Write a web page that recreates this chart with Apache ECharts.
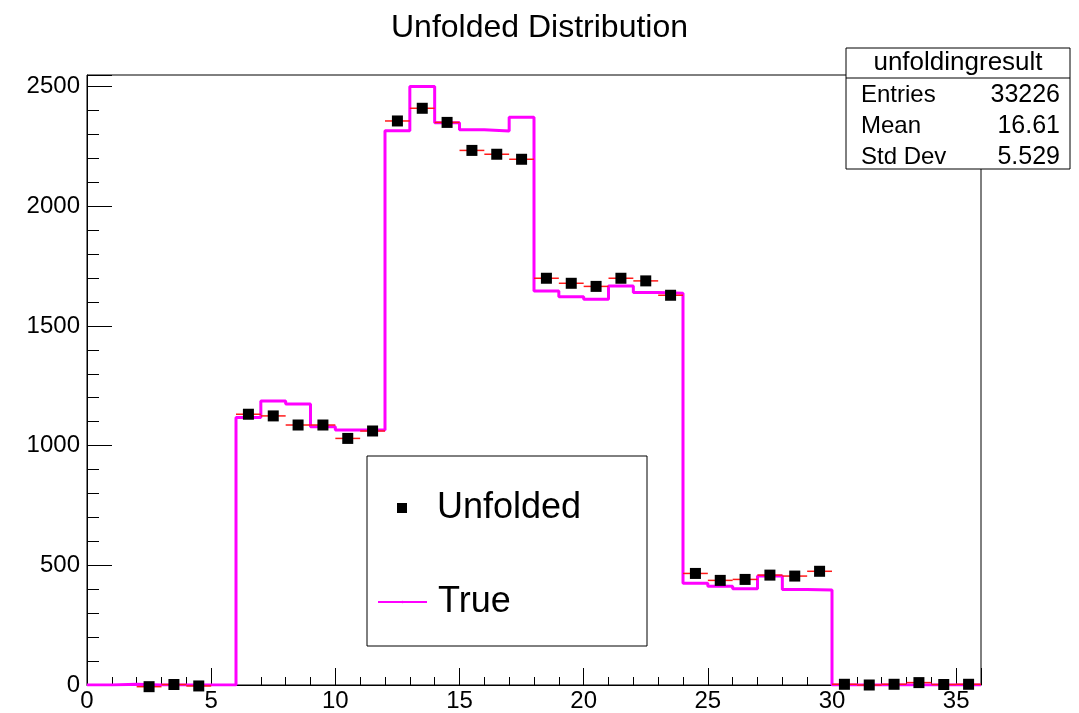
<!DOCTYPE html>
<html>
<head>
<meta charset="utf-8">
<script src="https://cdn.jsdelivr.net/npm/echarts@6/dist/echarts.min.js"></script>
<style>
  html, body { margin: 0; padding: 0; background: #fff; }
  #main { width: 1079px; height: 713px; }
</style>
</head>
<body>
<div id="main"></div>
<script>
var myChart = echarts.init(document.getElementById('main'));

// bin edges of the histogram (width 1)
var binEdges = [0, 1, 2, 3, 4, 5, 6, 7, 8, 9, 10, 11, 12, 13, 14, 15, 16, 17, 18,
    19, 20, 21, 22, 23, 24, 25, 26, 27, 28, 29, 30, 31, 32, 33, 34, 35, 36];

// "True" histogram, one value per bin
var trueCounts = [0, 3, 0, 0, 0, 0,
    1117, 1186, 1174, 1079, 1065, 1065,
    2315, 2500, 2349, 2319, 2314, 2371,
    1646, 1622, 1611, 1667, 1639, 1636,
    425, 413, 402, 455, 399, 397,
    0, 0, 0, 0, 0, 0];

// "Unfolded" points (bin centres)
var unfoldedX = [2.5, 3.5, 4.5,
    6.5, 7.5, 8.5, 9.5, 10.5, 11.5,
    12.5, 13.5, 14.5, 15.5, 16.5, 17.5,
    18.5, 19.5, 20.5, 21.5, 22.5, 23.5,
    24.5, 25.5, 26.5, 27.5, 28.5, 29.5,
    30.5, 31.5, 32.5, 33.5, 34.5, 35.5];
var unfoldedY = [-7, 2, -4,
    1131, 1124, 1086, 1086, 1030, 1061,
    2356, 2409, 2350, 2233, 2217, 2196,
    1699, 1678, 1665, 1699, 1688, 1628,
    466, 437, 441, 459, 455, 475,
    3, 0, 3, 10, 2, 3];
var halfWidth = 0.5;

var xTicks = [0, 5, 10, 15, 20, 25, 30, 35];
var yTicks = [0, 500, 1000, 1500, 2000, 2500];

var statsName = 'unfoldingresult';
var statsRows = [['Entries', '33226'], ['Mean', '16.61'], ['Std Dev', '5.529']];

var font = '"Liberation Sans", Arial, Helvetica, sans-serif';

// step line data: one point per left edge + closing point at the last edge
var stepData = [];
for (let i = 0; i < trueCounts.length; i++) {
    stepData.push([binEdges[i], trueCounts[i]]);
}
stepData.push([binEdges[binEdges.length - 1], trueCounts[trueCounts.length - 1]]);

var pointData = unfoldedX.map(function(x, i) { return [x, unfoldedY[i]]; });

var statsGraphics = [
    { type: 'rect', shape: { x: 846, y: 48, width: 224, height: 121 },
      style: { fill: '#fff', stroke: '#000', lineWidth: 1 }, z: 100 },
    { type: 'line', shape: { x1: 846, y1: 78, x2: 1070, y2: 78 },
      style: { stroke: '#000', lineWidth: 1 }, z: 101 },
    { type: 'text', x: 958, y: 63, z: 101,
      style: { text: statsName, font: '26px ' + font, fill: '#000', align: 'center', verticalAlign: 'middle' } }
];
statsRows.forEach(function(row, i) {
    let y = 95 + i * 31;
    statsGraphics.push({ type: 'text', x: 861, y: y, z: 101,
        style: { text: row[0], font: '24px ' + font, fill: '#000', align: 'left', verticalAlign: 'middle' } });
    statsGraphics.push({ type: 'text', x: 1060, y: y, z: 101,
        style: { text: row[1], font: '25px ' + font, fill: '#000', align: 'right', verticalAlign: 'middle' } });
});

var option = {
    animation: false,
    backgroundColor: '#fff',
    textStyle: { fontFamily: font },
    title: {
        text: 'Unfolded Distribution',
        left: 'center',
        top: 7,
        textStyle: { fontSize: 32, fontWeight: 'normal', color: '#000', fontFamily: font }
    },
    grid: {
        left: 87, right: 98, top: 75, bottom: 28,
        show: true, borderColor: '#000', borderWidth: 1, backgroundColor: 'transparent'
    },
    legend: [
        {
            data: [{ name: 'Unfolded', icon: 'rect' }],
            left: 397, top: 490, padding: 0,
            itemWidth: 10, itemHeight: 10,
            selectedMode: false, z: 60,
            textStyle: { fontSize: 36, color: '#000', fontFamily: font, padding: [0, 0, 0, 25] }
        },
        {
            data: ['True'],
            left: 377, top: 584, padding: 0,
            itemWidth: 49, itemHeight: 3,
            selectedMode: false, z: 60,
            textStyle: { fontSize: 36, color: '#000', fontFamily: font, padding: [0, 0, 0, 6] }
        }
    ],
    xAxis: [
        {
            type: 'value', min: 0, max: 36, interval: 5,
            axisLine: { show: true, lineStyle: { color: '#000', width: 1 } },
            axisTick: { show: true, inside: true, length: 17, lineStyle: { color: '#000', width: 1 } },
            axisLabel: {
                color: '#000', fontSize: 24, margin: 4, fontFamily: font,
                formatter: function(v) { return xTicks.indexOf(v) >= 0 ? String(v) : ''; }
            },
            splitLine: { show: false }
        },
        {
            type: 'value', min: 0, max: 36, interval: 1, position: 'bottom',
            axisLine: { show: false },
            axisTick: { show: true, inside: true, length: 8, lineStyle: { color: '#000', width: 1 } },
            axisLabel: { show: false },
            splitLine: { show: false }
        }
    ],
    yAxis: [
        {
            type: 'value', min: 0, max: 2548, interval: 500,
            axisLine: { show: true, lineStyle: { color: '#000', width: 1 } },
            axisTick: { show: true, inside: true, length: 25, lineStyle: { color: '#000', width: 1 } },
            axisLabel: {
                color: '#000', fontSize: 24, margin: 7, fontFamily: font,
                formatter: function(v) { return yTicks.indexOf(v) >= 0 ? String(v) : ''; }
            },
            splitLine: { show: false }
        },
        {
            type: 'value', min: 0, max: 2548, interval: 100, position: 'left',
            axisLine: { show: false },
            axisTick: { show: true, inside: true, length: 12, lineStyle: { color: '#000', width: 1 } },
            axisLabel: { show: false },
            splitLine: { show: false }
        }
    ],
    graphic: [
        { type: 'rect', shape: { x: 367, y: 456, width: 280, height: 190 },
          style: { fill: '#fff', stroke: '#000', lineWidth: 1 }, z: 50 }
    ].concat(statsGraphics),
    series: [
        {
            name: 'True',
            type: 'line',
            step: 'end',
            data: stepData,
            symbol: 'none',
            lineStyle: { color: '#ff00ff', width: 3 },
            itemStyle: { color: '#ff00ff' },
            z: 2
        },
        {
            name: 'xerr',
            type: 'custom',
            data: pointData,
            clip: false,
            renderItem: function(params, api) {
                let x = api.value(0), y = api.value(1);
                let p1 = api.coord([x - halfWidth, y]);
                let p2 = api.coord([x + halfWidth, y]);
                return {
                    type: 'line',
                    shape: { x1: p1[0], y1: p1[1], x2: p2[0], y2: p2[1] },
                    style: { stroke: '#ff1a1a', lineWidth: 1.5 }
                };
            },
            z: 3
        },
        {
            name: 'Unfolded',
            type: 'scatter',
            data: pointData,
            symbol: 'rect',
            symbolSize: 11,
            clip: false,
            itemStyle: { color: '#000', opacity: 1 },
            z: 4
        }
    ]
};

myChart.setOption(option);
</script>
</body>
</html>
